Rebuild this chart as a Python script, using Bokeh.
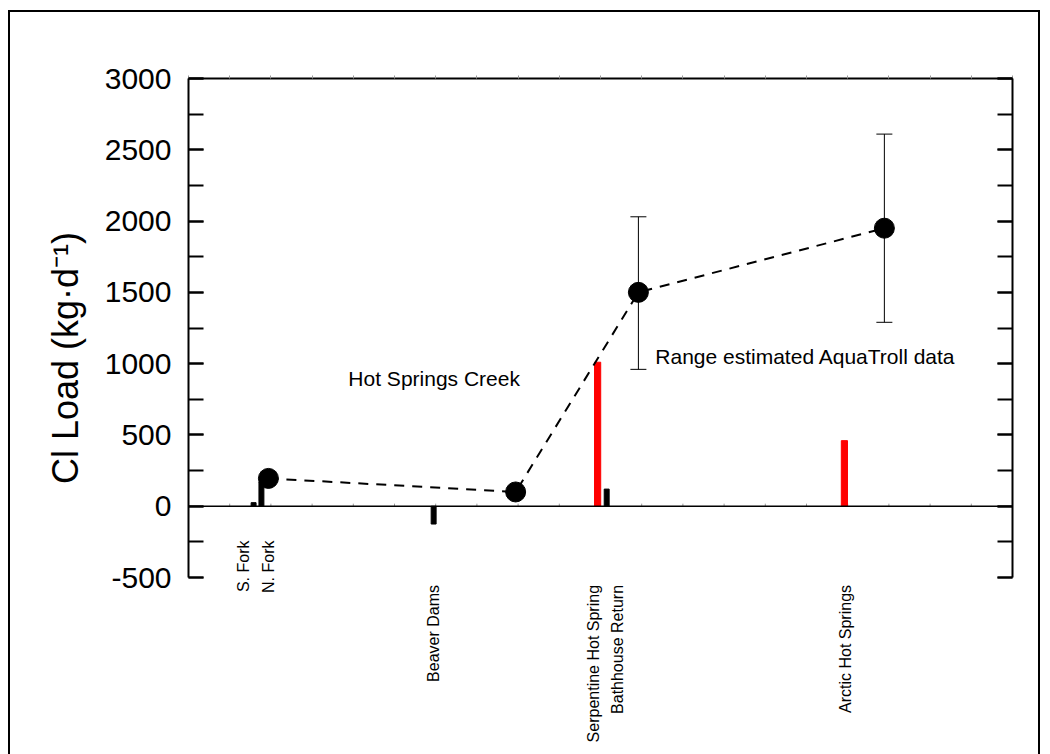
import math
from bokeh.plotting import figure
from bokeh.models import (Range1d, LinearAxis, SingleIntervalTicker, FixedTicker,
                          Whisker, TeeHead, ColumnDataSource, Label, Span,
                          InlineStyleSheet)
from bokeh.embed import file_html
from bokeh.resources import INLINE

# Site names along the creek, with their positions (distance units)
site_names = ["S. Fork", "N. Fork", "Beaver Dams", "Serpentine Hot Spring",
              "Bathhouse Return", "Arctic Hot Springs"]
site_label_x = [1.33, 1.94, 5.95, 9.83, 10.41, 15.95]
# the two forks sit higher, right under the zero line
site_raised = [True, True, False, False, False, False]

# Inflow loads (bars), kg/d
inflow_x = [1.58, 1.77, 5.95, 10.15]
inflow_load = [25, 170, -125, 120]
spring_x = [9.93, 15.92]
spring_load = [1010, 460]

# Main-stem loads along Hot Springs Creek
creek_x = [1.94, 7.94, 10.92, 16.89]
creek_load = [195, 100, 1500, 1950]

# AquaTroll-derived ranges
range_x = [10.92, 16.89]
range_low = [960, 1290]
range_high = [2030, 2610]

y_tick_values = [-500, 0, 500, 1000, 1500, 2000, 2500, 3000]
FONT = "Liberation Sans"

p = figure(width=1050, height=754, output_backend="svg", toolbar_location=None,
           x_range=Range1d(0, 20), y_range=Range1d(-500, 3000),
           x_axis_location=None, y_axis_location=None,
           min_border_left=188, min_border_right=38,
           min_border_top=78, min_border_bottom=177)
p.outline_line_color = None
p.grid.visible = False
p.background_fill_color = "white"
p.border_fill_color = "white"

# Outer frame around the whole graphic
p.stylesheets = [InlineStyleSheet(css="""
:host::after {
  content: ''; position: absolute; left: 8px; top: 10px;
  width: 1032px; height: 744px; box-sizing: border-box;
  border-style: solid; border-color: black; border-width: 2px 2px 0 2px;
  pointer-events: none; z-index: 10;
}
""")]

# Left axis
left = LinearAxis(ticker=SingleIntervalTicker(interval=500, num_minor_ticks=2),
                  axis_label="Cl Load (kg·d⁻¹)" + "\u00a0" * 6)
left.major_label_overrides = {v: str(v) for v in y_tick_values}
left.axis_line_width = 2
left.major_tick_in = 15
left.major_tick_out = 0
left.minor_tick_in = 15
left.minor_tick_out = 0
left.major_tick_line_width = 2
left.minor_tick_line_width = 2
left.major_label_text_font = FONT
left.major_label_text_font_size = "30px"
left.major_label_text_color = "black"
left.major_label_standoff = 17
left.axis_label_text_font = FONT
left.axis_label_text_font_size = "36px"
left.axis_label_text_font_style = "normal"
left.axis_label_text_color = "black"
left.axis_label_standoff = 16
p.add_layout(left, "left")

# Right axis, ticks only
right = LinearAxis(ticker=SingleIntervalTicker(interval=500, num_minor_ticks=2))
right.axis_line_width = 2
right.major_tick_in = 15
right.major_tick_out = 0
right.minor_tick_in = 15
right.minor_tick_out = 0
right.major_tick_line_width = 2
right.minor_tick_line_width = 2
right.major_label_text_font_size = "0px"
right.major_label_standoff = 0
p.add_layout(right, "right")

# Top axis with faint ticks
top = LinearAxis(ticker=FixedTicker(ticks=list(range(0, 21))))
top.axis_line_width = 2
top.major_tick_in = 0
top.major_tick_out = 3
top.major_tick_line_color = "#999999"
top.minor_tick_line_color = None
top.major_label_text_font_size = "0px"
top.major_label_standoff = 0
p.add_layout(top, "above")

# Bottom axis: site names reading upward. Labels hang from a line just
# under the zero line; the lower ones are pushed down with trailing spaces.
LOWER_PAD = "\u00a0" * 10
bottom = LinearAxis(ticker=FixedTicker(ticks=site_label_x))
bottom.major_label_overrides = {
    x: (n if raised else n + LOWER_PAD)
    for x, n, raised in zip(site_label_x, site_names, site_raised)}
bottom.axis_line_color = None
bottom.major_tick_line_color = None
bottom.major_tick_out = 0
bottom.major_tick_in = 0
bottom.minor_tick_line_color = None
bottom.major_label_orientation = math.pi / 2
bottom.major_label_text_font = FONT
bottom.major_label_text_font_size = "16px"
bottom.major_label_text_color = "black"
bottom.major_label_standoff = -37
p.add_layout(bottom, "below")

# Zero line with faint ticks
p.add_layout(Span(location=0, dimension="width", line_color="black", line_width=1.5))
zt = list(range(1, 20))
p.segment(x0=zt, y0=[0] * len(zt), x1=zt, y1=[18] * len(zt),
          line_color="#999999", line_width=1)

# Bars
p.vbar(x=inflow_x, top=inflow_load, bottom=0, width=0.12, color="black")
p.vbar(x=spring_x, top=spring_load, bottom=0, width=0.15, color="red")

# Creek load line and points
p.line(creek_x, creek_load, line_color="black", line_width=2, line_dash="10 8")
src = ColumnDataSource(dict(x=range_x, lo=range_low, hi=range_high))
p.add_layout(Whisker(source=src, base="x", lower="lo", upper="hi", line_width=1,
                     line_color="black",
                     upper_head=TeeHead(size=16, line_width=1),
                     lower_head=TeeHead(size=16, line_width=1)))
p.scatter(creek_x, creek_load, size=20, color="black")

# Annotations
p.add_layout(Label(x=3.88, y=898, text="Hot Springs Creek", text_font=FONT,
                   text_font_size="21px", text_baseline="middle", text_align="left",
                   text_color="black"))
p.add_layout(Label(x=11.33, y=1052, text="Range estimated AquaTroll data",
                   text_font=FONT, text_font_size="21px", text_baseline="middle",
                   text_align="left", text_color="black"))

open("out.html", "w").write(file_html(p, INLINE))
